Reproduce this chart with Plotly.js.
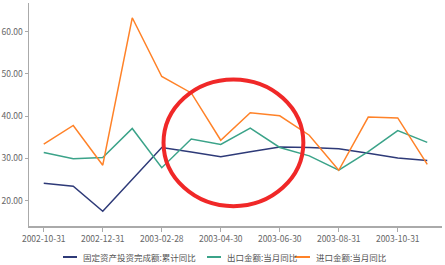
<!DOCTYPE html>
<html>
<head>
<meta charset="utf-8">
<script src="https://cdn.plot.ly/plotly-3.0.1.min.js"></script>
<style>html,body{margin:0;padding:0;background:#fff;}#chart{width:445px;height:265px;}</style>
</head>
<body>
<div id="chart"></div>
<script>
const categories = ["2002-10-31","2002-11-30","2002-12-31","2003-01-31","2003-02-28","2003-03-31","2003-04-30","2003-05-31","2003-06-30","2003-07-31","2003-08-31","2003-09-30","2003-10-31","2003-11-30"];
const fixedInvest = [24.1, 23.4, 17.5, 25.1, 32.6, 31.5, 30.4, 31.6, 32.7, 32.6, 32.3, 31.2, 30.1, 29.5];
const exportYoY   = [31.4, 29.9, 30.2, 37.1, 27.8, 34.6, 33.3, 37.2, 32.6, 30.6, 27.2, 31.6, 36.6, 33.8];
const importYoY   = [33.4, 37.8, 28.4, 63.3, 49.4, 45.5, 34.3, 40.8, 40.1, 35.5, 27.2, 39.8, 39.6, 28.6];
const seriesNames = ["固定资产投资完成额:累计同比", "出口金额:当月同比", "进口金额:当月同比"];
const tickCats = ["2002-10-31","2002-12-31","2003-02-28","2003-04-30","2003-06-30","2003-08-31","2003-10-31"];

const colors = ["#2e3a78", "#3ba389", "#ff8228"];
const font = "'Noto Sans CJK SC', 'Noto Sans', sans-serif";
const traces = [fixedInvest, exportYoY, importYoY].map((ys, i) => ({
  type: "scatter", mode: "lines", x: categories, y: ys, name: seriesNames[i],
  line: {color: colors[i], width: 1.5}, hoverinfo: "skip"
}));

// custom legend (pixel layout converted to paper coords)
const L = 29, W = 413, B = 226, H = 223;
const px = v => (v - L) / W, py = v => (B - v) / H;
const legendLineX = [[63, 77], [207, 221], [295, 310]];
const legendTextX = [81, 225, 314];
const legendY = 257;
const legendShapes = legendLineX.map((r, i) => ({
  type: "line", xref: "paper", yref: "paper", x0: px(r[0]), x1: px(r[1]), y0: py(legendY), y1: py(legendY),
  line: {color: colors[i], width: 2}
}));
const legendAnn = seriesNames.map((t, i) => ({
  text: t, xref: "paper", yref: "paper", x: px(legendTextX[i]), y: py(legendY),
  xanchor: "left", yanchor: "middle", showarrow: false,
  font: {family: font, size: 8.5, color: "#555"}
}));

const layout = {
  width: 445, height: 265,
  margin: {l: 29, r: 3, t: 3, b: 39},
  paper_bgcolor: "#fff", plot_bgcolor: "#fff",
  font: {family: font, size: 9, color: "#666"},
  showlegend: false,
  xaxis: {type: "category", categoryorder: "array", categoryarray: categories,
          range: [-0.5, 13.5], tickmode: "array", tickvals: tickCats, ticktext: tickCats,
          showline: true, linecolor: "#aaa", linewidth: 1.5, ticks: "outside", ticklen: 4, tickcolor: "#aaa",
          showgrid: false, zeroline: false, tickfont: {size: 8.5, color: "#666"}, fixedrange: true},
  yaxis: {range: [14, 66.8], tickvals: [20, 30, 40, 50, 60], tickformat: ".2f",
          showline: true, linecolor: "#aaa", linewidth: 1.5, ticks: "outside", ticklen: 3, tickcolor: "#aaa",
          showgrid: false, zeroline: false, tickfont: {size: 8.5, color: "#666"}, fixedrange: true},
  shapes: [{type: "circle", xref: "x", yref: "y", x0: 4.06, x1: 8.8, y0: 18.7, y1: 48.7,
            line: {color: "#f02828", width: 4}}].concat(legendShapes),
  annotations: legendAnn
};
Plotly.newPlot("chart", traces, layout, {displayModeBar: false, staticPlot: true});
</script>
</body>
</html>
